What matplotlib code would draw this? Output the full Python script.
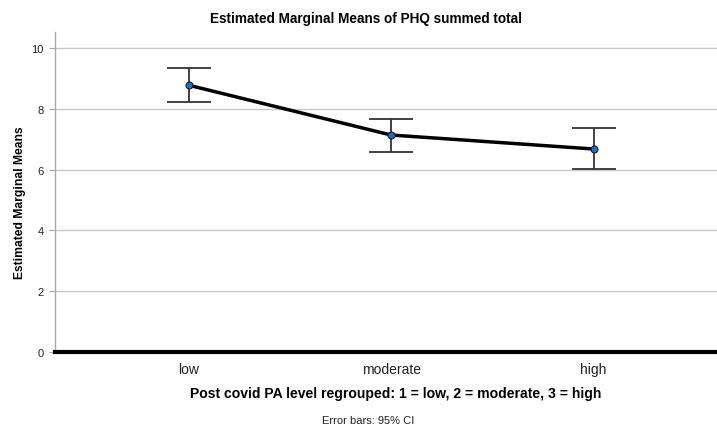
import matplotlib.pyplot as plt

# PHQ estimated marginal means by post-covid PA level
levels = ["low", "moderate", "high"]
means = [8.78, 7.14, 6.68]
ci_low = [8.22, 6.58, 6.02]
ci_high = [9.34, 7.66, 7.37]

plt.rcParams['font.family'] = ['Liberation Sans', 'DejaVu Sans']

W, H = 717, 427
fig = plt.figure(figsize=(W / 100, H / 100), dpi=100)
ax = fig.add_axes([55 / W, 74 / H, 662 / W, 320 / H])

xs = list(range(1, len(levels) + 1))
yerr = [[m - lo for m, lo in zip(means, ci_low)],
        [hi - m for m, hi in zip(means, ci_high)]]

ax.errorbar(xs, means, yerr=yerr, fmt='none', ecolor='#333333',
            elinewidth=1.3, capsize=16, capthick=1.3, zorder=3)
ax.plot(xs, means, color='black', linewidth=2.5, zorder=4)
ax.plot(xs, means, 'o', markersize=5, markerfacecolor='#1f6fb8',
        markeredgecolor='#1a1a40', markeredgewidth=0.8, zorder=5)

ax.set_xlim(0.34, 3.61)
ax.set_ylim(0, 10.53)
ax.set_yticks([0, 2, 4, 6, 8, 10])
ax.set_xticks(xs)
ax.set_xticklabels(levels)

ax.grid(axis='y', color='#c8c8c8', linewidth=1.0, zorder=0)
ax.axhline(0, color='black', linewidth=3, zorder=6, clip_on=False)

for side in ['top', 'right', 'bottom']:
    ax.spines[side].set_visible(False)
ax.spines['left'].set_color('#aaaaaa')
ax.spines['left'].set_linewidth(1.0)

ax.tick_params(axis='y', length=4, color='#aaaaaa', labelsize=8,
               labelcolor='#222222', pad=4)
ax.tick_params(axis='x', length=0, labelsize=10, labelcolor='#222222', pad=7)

# titles and labels placed in figure pixel coordinates
fig.text(366 / W, 1 - 19 / H, "Estimated Marginal Means of PHQ summed total",
         fontsize=9.8, fontweight='bold', ha='center', va='center')
fig.text(20 / W, 1 - 203 / H, "Estimated Marginal Means", fontsize=8.7,
         fontweight='bold', rotation=90, ha='center', va='center')
fig.text(396 / W, 1 - 394 / H,
         "Post covid PA level regrouped: 1 = low, 2 = moderate, 3 = high",
         fontsize=10.1, fontweight='bold', ha='center', va='center')
fig.text(368 / W, 1 - 421 / H, "Error bars: 95% CI", fontsize=8,
         color='#222222', ha='center', va='center')

fig.savefig("out.png", dpi=100)
